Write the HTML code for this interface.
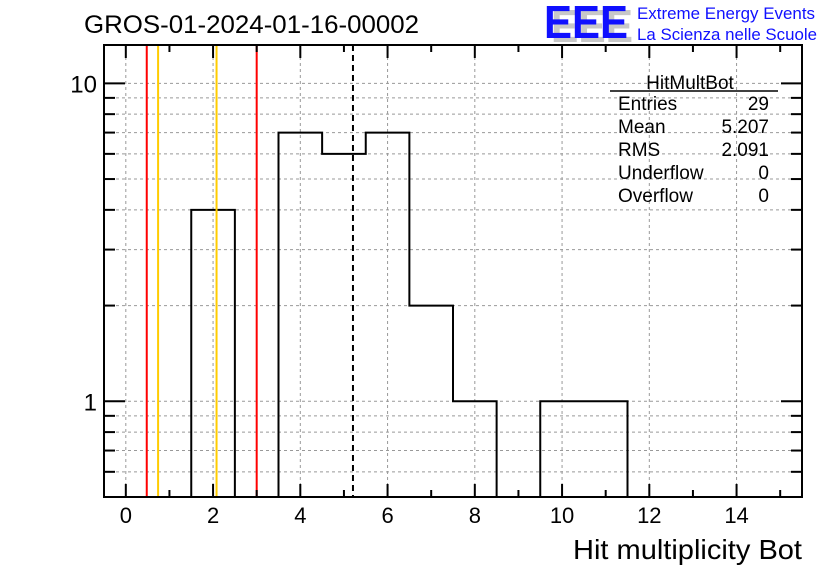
<!DOCTYPE html>
<html><head><meta charset="utf-8"><style>
body{margin:0;background:#fff}
svg{display:block;font-family:"Liberation Sans",sans-serif}
</style></head><body>
<svg id="c" width="836" height="572" viewBox="0 0 836 572" xmlns="http://www.w3.org/2000/svg">
<rect width="836" height="572" fill="#fff"/>
<text x="84" y="33" font-size="25" fill="#000" textLength="335" lengthAdjust="spacingAndGlyphs">GROS-01-2024-01-16-00002</text>
<g>
<text x="551" y="42" font-size="46" font-weight="bold" fill="#c8c8c8" textLength="82" lengthAdjust="spacingAndGlyphs">EEE</text>
<text x="544" y="38" font-size="46" font-weight="bold" fill="#1010ff" textLength="84" lengthAdjust="spacingAndGlyphs">EEE</text>
<text x="637" y="19" font-size="17" fill="#1010ff" textLength="178" lengthAdjust="spacingAndGlyphs">Extreme Energy Events</text>
<text x="637" y="40" font-size="17" fill="#1010ff" textLength="180" lengthAdjust="spacingAndGlyphs">La Scienza nelle Scuole</text>
</g>
<g id="grid"></g>
<g id="marks"></g>
<g id="axes"></g>
<g font-size="19">
<text x="690" y="89" text-anchor="middle">HitMultBot</text>
<line x1="610" y1="91" x2="778" y2="91" stroke="#000" stroke-width="1.5"/>
<text x="618" y="110">Entries</text><text x="769" y="110" text-anchor="end">29</text>
<text x="618" y="133">Mean</text><text x="769" y="133" text-anchor="end">5.207</text>
<text x="618" y="156">RMS</text><text x="769" y="156" text-anchor="end">2.091</text>
<text x="618" y="179">Underflow</text><text x="769" y="179" text-anchor="end">0</text>
<text x="618" y="202">Overflow</text><text x="769" y="202" text-anchor="end">0</text>
</g>
<text x="802" y="559" font-size="28" text-anchor="end" textLength="229" lengthAdjust="spacingAndGlyphs">Hit multiplicity Bot</text>
</svg>
<script>
const binEdges=[-0.5,0.5,1.5,2.5,3.5,4.5,5.5,6.5,7.5,8.5,9.5,10.5,11.5,12.5,13.5,14.5,15.5];
const binCounts=[0,0,4,0,7,6,7,2,1,0,1,1,0,0,0,0];
const xTickLabels=[0,2,4,6,8,10,12,14];
const yTickLabels=[1,10];
const redLines=[0.48,3.0];
const yellowLines=[0.74,2.08];
const meanValue=5.207;
const NS="http://www.w3.org/2000/svg";
const L=104,R=802,T=45,B=497,XMIN=-0.5,XMAX=15.5,YMIN=0.5,YMAX=13.2;
const sx=v=>L+(v-XMIN)/(XMAX-XMIN)*(R-L);
const sy=v=>B-(Math.log10(v)-Math.log10(YMIN))/(Math.log10(YMAX)-Math.log10(YMIN))*(B-T);
function mk(p,tag,a){const e=document.createElementNS(NS,tag);for(const k in a)e.setAttribute(k,a[k]);p.appendChild(e);return e;}
const grid=document.getElementById('grid'),marks=document.getElementById('marks'),axes=document.getElementById('axes');
const yt=[];for(let d=-1;d<=1;d++)for(let m=1;m<=9;m++){const v=m*Math.pow(10,d);if(v>=YMIN&&v<=YMAX)yt.push([v,m===1]);}
yt.forEach(([v,maj])=>{const y=sy(v);
 const g=mk(grid,'line',{x1:L,x2:R,y1:y,y2:y,stroke:'#999','stroke-dasharray':'3,3','stroke-width':1});
 
 
 const len=maj?21:11;
 mk(axes,'line',{x1:L,x2:L+len,y1:y,y2:y,stroke:'#000','stroke-width':2});
 mk(axes,'line',{x1:R,x2:R-len,y1:y,y2:y,stroke:'#000','stroke-width':2});
});
yTickLabels.forEach(v=>{const t=mk(axes,'text',{x:97,y:sy(v)+9,'font-size':24,'text-anchor':'end'});t.textContent=v;
 
 });
for(let v=0;v<=15.5;v+=0.5){const x=sx(v);const maj=Math.abs(v/2-Math.round(v/2))<1e-9;const minr=Math.abs(v-Math.round(v))<1e-9;
 if(!maj&&!minr)continue;const len=maj?13:7;
 mk(axes,'line',{x1:x,x2:x,y1:B,y2:B-len,stroke:'#000','stroke-width':2});
 mk(axes,'line',{x1:x,x2:x,y1:T,y2:T+len,stroke:'#000','stroke-width':2});
}
xTickLabels.forEach(v=>{const x=sx(v);
 const g=mk(grid,'line',{x1:x,x2:x,y1:T,y2:B,stroke:'#999','stroke-dasharray':'3,3','stroke-width':1});
 
 
 const t=mk(axes,'text',{x:x,y:523,'font-size':22,'text-anchor':'middle'});t.textContent=v;
 
 });
let d='';binCounts.forEach((c,i)=>{const y=c>0?sy(c):B;const x0=sx(binEdges[i]),x1=sx(binEdges[i+1]);
 d+=(i===0?'M'+x0+','+B+' L':' L')+x0+','+y+' L'+x1+','+y;});
d+=' L'+sx(binEdges[binEdges.length-1])+','+B;
const h=mk(marks,'path',{d:d,fill:'none',stroke:'#000','stroke-width':2});


redLines.forEach(v=>{const l=mk(marks,'line',{x1:sx(v),x2:sx(v),y1:T,y2:B,stroke:'#ff0000','stroke-width':2});
 
 });
yellowLines.forEach(v=>{const l=mk(marks,'line',{x1:sx(v),x2:sx(v),y1:T,y2:B,stroke:'#ffcc00','stroke-width':2});
 
 });
const ml=mk(marks,'line',{x1:sx(meanValue),x2:sx(meanValue),y1:T,y2:B,stroke:'#000','stroke-width':2,'stroke-dasharray':'6,4'});


const fr=mk(axes,'rect',{x:L,y:T,width:R-L,height:B-T,fill:'none',stroke:'#000','stroke-width':2});


</script>
</body></html>
